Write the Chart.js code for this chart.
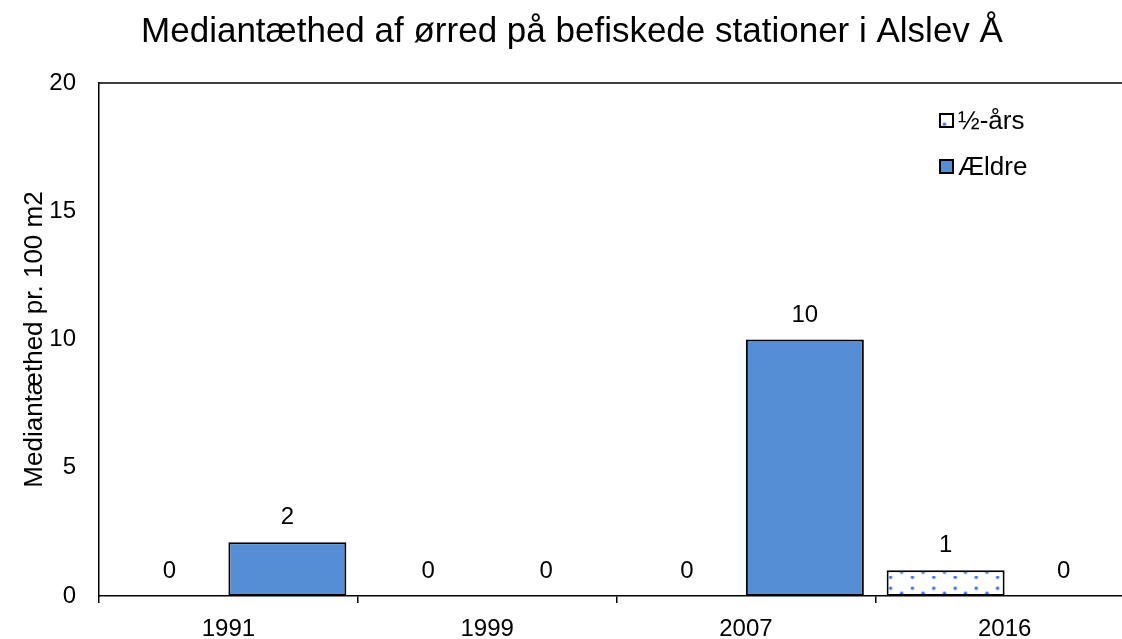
<!DOCTYPE html>
<html><head><meta charset="utf-8">
<script src="https://cdn.jsdelivr.net/npm/chart.js@4"></script>
<style>
html,body{margin:0;padding:0;overflow:hidden;background:#fff;width:1122px;height:639px}
#wrap{position:relative;width:1144px;height:639px}
canvas{display:block}
</style>
</head><body>
<div id="wrap"><canvas id="c" width="1144" height="639"></canvas></div>
<script>
const titleText = 'Mediantæthed af ørred på befiskede stationer i Alslev Å';
const yAxisTitle = 'Mediantæthed pr. 100 m2';
const categories = ['1991', '1999', '2007', '2016'];
const seriesNames = ['½-års', 'Ældre'];
const halfYearValues = [0, 0, 0, 1.0];
const olderValues = [2.1, 0, 10, 0];
const yTicks = [0, 5, 10, 15, 20];

const FONT = "'Liberation Sans', Arial, sans-serif";
const canvas = document.getElementById('c');
const ctx0 = canvas.getContext('2d');

function makeDotPattern() {
  const W = 107, H = 32;
  const t = document.createElement('canvas');
  t.width = W; t.height = H;
  const g = t.getContext('2d');
  g.fillStyle = '#ffffff';
  g.fillRect(0, 0, W, H);
  const ax = [2.5, 23.9, 45.7, 67.1, 88.5];
  const bx = ax.map(x => (x + 10.7) % W);
  const rows = [[1.3, bx], [12.3, bx], [17.3, ax], [28.3, ax]];
  rows.forEach(([y, xs]) => {
    xs.forEach(x => {
      g.fillStyle = 'rgba(110,145,250,0.5)';
      g.beginPath(); g.arc(x, y, 2.2, 0, Math.PI * 2); g.fill();
      g.fillStyle = '#3a6cf5';
      g.beginPath(); g.arc(x, y, 1.3, 0, Math.PI * 2); g.fill();
    });
  });
  return ctx0.createPattern(t, 'repeat');
}
const dotPattern = makeDotPattern();

const framePlugin = {
  id: 'frame',
  afterDraw(chart) {
    const {ctx, chartArea: a} = chart;
    ctx.save();
    ctx.strokeStyle = '#000';
    ctx.lineWidth = 1.5;
    ctx.beginPath();
    ctx.moveTo(a.left, a.top);
    ctx.lineTo(a.right, a.top);
    ctx.lineTo(a.right, a.bottom);
    ctx.stroke();
    ctx.restore();
  }
};

const labelPlugin = {
  id: 'valueLabels',
  afterDatasetsDraw(chart) {
    const ctx = chart.ctx;
    ctx.save();
    ctx.font = '24px ' + FONT;
    ctx.fillStyle = '#000';
    ctx.textAlign = 'center';
    ctx.textBaseline = 'alphabetic';
    chart.data.datasets.forEach((ds, di) => {
      const meta = chart.getDatasetMeta(di);
      meta.data.forEach((el, i) => {
        const v = ds.data[i];
        ctx.fillText(String(Math.round(v)), el.x, el.y - 18);
      });
    });
    ctx.restore();
  }
};

const legendPlugin = {
  id: 'insideLegend',
  afterDraw(chart) {
    const ctx = chart.ctx;
    ctx.save();
    ctx.font = '26px ' + FONT;
    ctx.textAlign = 'left';
    ctx.textBaseline = 'middle';
    const x = 940, ys = [114, 160], s = 13;
    chart.data.datasets.forEach((ds, di) => {
      const y = ys[di];
      ctx.fillStyle = ds.backgroundColor;
      ctx.fillRect(x, y, s, s);
      ctx.strokeStyle = '#000';
      ctx.lineWidth = 2;
      ctx.strokeRect(x, y, s, s);
      ctx.fillStyle = '#000';
      ctx.fillText(ds.label, x + 18, y + s / 2 + 1);
    });
    ctx.restore();
  }
};

const bw = (c) => (c.raw === 0 ? 0 : 2);

new Chart(canvas, {
  type: 'bar',
  data: {
    labels: categories,
    datasets: [
      { label: seriesNames[0], data: halfYearValues, backgroundColor: dotPattern,
        borderColor: '#000', borderWidth: bw, borderSkipped: false },
      { label: seriesNames[1], data: olderValues, backgroundColor: '#558ED5',
        borderColor: '#000', borderWidth: bw, borderSkipped: false }
    ]
  },
  options: {
    responsive: false,
    animation: false,
    devicePixelRatio: 1,
    categoryPercentage: 0.912,
    barPercentage: 1.0,
    layout: { padding: { left: 10, right: 10, top: 0, bottom: 0 } },
    plugins: {
      legend: { display: false },
      tooltip: { enabled: false },
      title: {
        display: true, text: titleText, color: '#000',
        font: { family: FONT, size: 35, weight: 'normal' },
        padding: { top: 11, bottom: 30 }
      }
    },
    scales: {
      x: {
        grid: { display: true, offset: true, drawOnChartArea: false, drawTicks: true,
                tickLength: 7, color: '#000', lineWidth: 1.5 },
        border: { display: true, color: '#000', width: 1.5 },
        ticks: { color: '#000', font: { family: FONT, size: 24 }, padding: 12, maxRotation: 0 },
        afterFit(s) { s.height = 43; }
      },
      y: {
        min: 0, max: 20,
        grid: { display: false, drawTicks: false },
        border: { display: true, color: '#000', width: 1.5 },
        ticks: { color: '#000', font: { family: FONT, size: 24 }, padding: 23, stepSize: 5 },
        afterBuildTicks(s) { s.ticks = yTicks.map(v => ({ value: v })); },
        title: { display: true, text: yAxisTitle, color: '#000',
                 font: { family: FONT, size: 26 }, padding: { top: 9, bottom: 0 } },
        afterFit(s) { s.width = 89; }
      }
    }
  },
  plugins: [framePlugin, labelPlugin, legendPlugin]
});
</script>
</body></html>
